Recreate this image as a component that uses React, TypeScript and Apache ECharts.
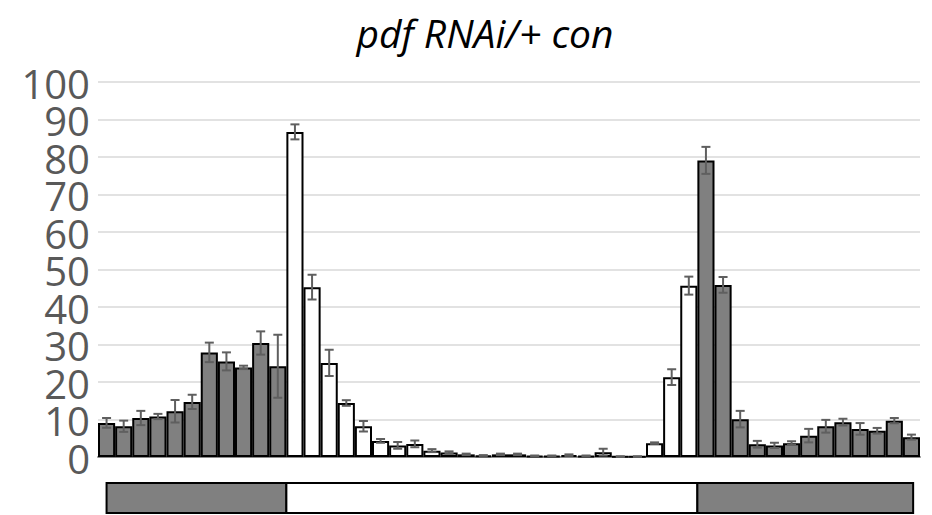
import React, { useEffect, useRef } from "react";
import * as echarts from "echarts";

const title = "pdf RNAi/+ con";
const yTicks = [0, 10, 20, 30, 40, 50, 60, 70, 80, 90, 100];
const bins = Array.from({ length: 48 }, (_, i) => String(i + 1));
const values = [
  9.1, 8.2, 10.4, 10.8, 12.2, 14.7, 27.9, 25.5, 23.9, 30.4, 24.2,
  86.7, 45.3, 25.1, 14.4, 8.2, 4.3, 3.1, 3.5, 1.7, 1.2, 0.7,
  0.4, 0.7, 0.7, 0.3, 0.3, 0.5, 0.3, 1.3, 0.1, 0.1, 3.7, 21.3, 45.7,
  79.1, 45.9, 10.1, 3.4, 3.1, 3.7, 5.7, 8.2, 9.3, 7.5, 7.0, 9.7, 5.3,
];
const errors = [
  1.3, 1.5, 1.9, 0.7, 3.0, 1.9, 2.6, 2.4, 0.45, 3.1, 8.4,
  2.0, 3.3, 3.5, 0.75, 1.4, 0.5, 0.9, 0.9, 0.4, 0.3, 0.2,
  0.1, 0.2, 0.2, 0.1, 0.1, 0.2, 0.1, 0.9, 0.1, 0.1, 0.2, 2.1, 2.4,
  3.6, 2.1, 2.2, 0.9, 0.7, 0.5, 1.8, 1.7, 0.9, 1.55, 0.75, 0.7, 0.67,
];
const lightStart = 11;
const lightEnd = 35;
const ldSegments = [
  [0.5, 11, 0],
  [11, 35, 1],
  [35, 47.6, 0],
];

const DARK = "#808080";
const LIGHT = "#ffffff";

export default function App() {
  const ref = useRef<HTMLDivElement>(null);
  useEffect(() => {
    if (!ref.current) return;
    const chart = echarts.init(ref.current, null, { renderer: "svg" });
    const font = "'Open Sans', 'Noto Sans', sans-serif";
    chart.setOption({
      animation: false,
      backgroundColor: "#ffffff",
      title: {
        text: title,
        left: 480,
        textAlign: "center",
        top: 8,
        textStyle: {
          fontFamily: font,
          fontStyle: "italic",
          fontWeight: "normal",
          fontSize: 39,
          color: "#000000",
        },
      },
      grid: [
        { left: 98, right: 12, top: 82, bottom: 58 },
        { left: 98, right: 12, top: 483, height: 30 },
      ],
      xAxis: [
        {
          type: "category",
          data: bins,
          gridIndex: 0,
          axisLine: { show: true, lineStyle: { color: "#8c8c8c", width: 2 } },
          axisTick: { show: false },
          axisLabel: { show: false },
          splitLine: { show: false },
        },
        {
          type: "value",
          gridIndex: 1,
          min: 0,
          max: 48,
          show: false,
        },
      ],
      yAxis: [
        {
          type: "value",
          gridIndex: 0,
          min: 0,
          max: 100,
          interval: 10,
          axisLine: { show: false },
          axisTick: { show: false },
          axisLabel: { show: false },
          splitLine: { lineStyle: { color: "#d9d9d9", width: 1.5 } },
        },
        {
          type: "value",
          gridIndex: 1,
          min: 0,
          max: 1,
          show: false,
        },
      ],
      series: [
        {
          type: "bar",
          xAxisIndex: 0,
          yAxisIndex: 0,
          barCategoryGap: "0%",
          data: values.map((v, i) => ({
            value: v,
            itemStyle: {
              color: i >= lightStart && i < lightEnd ? LIGHT : DARK,
              borderColor: "#000000",
              borderWidth: 2,
            },
          })),
          z: 2,
        },
        {
          type: "custom",
          xAxisIndex: 0,
          yAxisIndex: 0,
          data: values.map((v, i) => [i, v - errors[i], v + errors[i]]),
          z: 3,
          renderItem: (params: any, api: any) => {
            const x = api.value(0);
            const lo = api.coord([x, api.value(1)]);
            const hi = api.coord([x, api.value(2)]);
            const hw = 4.5;
            const st = { stroke: "#5f5f5f", lineWidth: 2, fill: "none" };
            return {
              type: "group",
              children: [
                { type: "line", shape: { x1: hi[0], y1: hi[1], x2: lo[0], y2: lo[1] }, style: st },
                { type: "line", shape: { x1: hi[0] - hw, y1: hi[1], x2: hi[0] + hw, y2: hi[1] }, style: st },
                { type: "line", shape: { x1: lo[0] - hw, y1: lo[1], x2: lo[0] + hw, y2: lo[1] }, style: st },
              ],
            };
          },
        },
        {
          type: "custom",
          xAxisIndex: 0,
          yAxisIndex: 0,
          clip: false,
          silent: true,
          data: yTicks.map((t) => [0, t]),
          renderItem: (params: any, api: any) => {
            const p = api.coord([0, api.value(1)]);
            const left = params.coordSys.x;
            return {
              type: "text",
              x: left - 8,
              y: p[1] + 1,
              style: {
                text: String(api.value(1)),
                fontFamily: font,
                fontSize: 40,
                lineHeight: 36,
                fill: "#595959",
                align: "right",
                verticalAlign: "middle",
              },
            };
          },
        },
        {
          type: "custom",
          xAxisIndex: 1,
          yAxisIndex: 1,
          data: ldSegments,
          renderItem: (params: any, api: any) => {
            const p0 = api.coord([api.value(0), 1]);
            const p1 = api.coord([api.value(1), 0]);
            return {
              type: "rect",
              shape: { x: p0[0], y: p0[1], width: p1[0] - p0[0], height: p1[1] - p0[1] },
              style: {
                fill: api.value(2) === 1 ? LIGHT : DARK,
                stroke: "#000000",
                lineWidth: 2,
              },
            };
          },
        },
      ],
    });
    return () => chart.dispose();
  }, []);
  return (
    <div
      ref={ref}
      style={{ position: "absolute", left: 0, top: 0, width: 932, height: 515 }}
    />
  );
}
